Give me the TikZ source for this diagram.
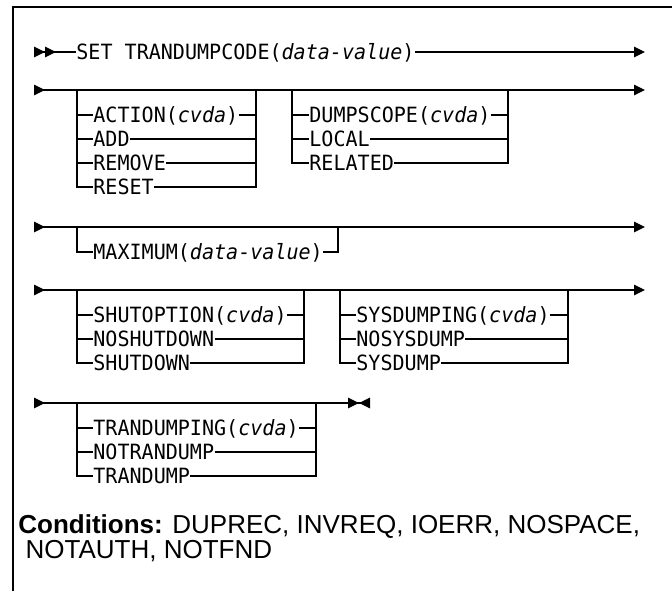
\documentclass[tikz,border=0pt]{standalone}
\usepackage{fontspec}
\setmainfont{Liberation Sans}
\newfontfamily\railfont{DejaVu Sans Mono}[FakeStretch=0.955]
\usetikzlibrary{arrows.meta}
\tikzset{
  frame/.style={line width=0.75pt, color=black},
  rail/.style={line width=0.7pt, color=black},
  item/.style={anchor=west, inner sep=0pt, text height=7.6pt, text depth=0pt,
    font=\railfont\fontsize{10.5}{12}\selectfont},
  cond/.style={anchor=base west, inner sep=0pt,
    font=\fontsize{13}{14}\selectfont}
}

\begin{document}
\begin{tikzpicture}[x=0.5pt, y=-0.5pt]
  \useasboundingbox (0,0) rectangle (672,591);
  \draw[frame] (13,591) -- (13,7) -- (672,7);

  % Row 1
  \coordinate (r1s) at (34,52);
  \coordinate (r1e) at (645,52);
  \node[item] (set) at (76,52) {SET TRANDUMPCODE(\textit{data-value})};
  \draw[rail, {Triangle[reversed, length=5.5pt, width=5.25pt] Triangle[reversed, length=5.5pt, width=5.25pt]}-] (r1s) -- (set.west);
  \draw[rail, -{Triangle[length=5.5pt, width=5.25pt]}] (set.east) -- (r1e);

  % Row 2
  \coordinate (r2s) at (34,90);
  \coordinate (r2e) at (645,90);
  \draw[rail, {Triangle[reversed, length=5.5pt, width=5.25pt]}-{Triangle[length=5.5pt, width=5.25pt]}] (r2s) -- (r2e);
  \coordinate (actL) at (77,90);
  \coordinate (actR) at (256,90);
  \node[item] (action) at (93,115) {ACTION(\textit{cvda})};
  \node[item] (add) at (93,139) {ADD};
  \node[item] (remove) at (93,163) {REMOVE};
  \node[item] (reset) at (93,187) {RESET};
  \draw[rail] (actL) |- (reset.west);
  \draw[rail] (actR) |- (reset.east);
  \draw[rail] (actL |- action) -- (action.west);
  \draw[rail] (action.east) -- (actR |- action);
  \draw[rail] (actL |- add) -- (add.west);
  \draw[rail] (add.east) -- (actR |- add);
  \draw[rail] (actL |- remove) -- (remove.west);
  \draw[rail] (remove.east) -- (actR |- remove);
  \coordinate (scoL) at (292,90);
  \coordinate (scoR) at (508,90);
  \node[item] (dumpscope) at (309,115) {DUMPSCOPE(\textit{cvda})};
  \node[item] (local) at (309,139) {LOCAL};
  \node[item] (related) at (309,163) {RELATED};
  \draw[rail] (scoL) |- (related.west);
  \draw[rail] (scoR) |- (related.east);
  \draw[rail] (scoL |- dumpscope) -- (dumpscope.west);
  \draw[rail] (dumpscope.east) -- (scoR |- dumpscope);
  \draw[rail] (scoL |- local) -- (local.west);
  \draw[rail] (local.east) -- (scoR |- local);

  % Row 3
  \coordinate (r3s) at (34,227);
  \coordinate (r3e) at (645,227);
  \draw[rail, {Triangle[reversed, length=5.5pt, width=5.25pt]}-{Triangle[length=5.5pt, width=5.25pt]}] (r3s) -- (r3e);
  \coordinate (maxL) at (77,227);
  \coordinate (maxR) at (338,227);
  \node[item] (maximum) at (93,252) {MAXIMUM(\textit{data-value})};
  \draw[rail] (maxL) |- (maximum.west);
  \draw[rail] (maxR) |- (maximum.east);

  % Row 4
  \coordinate (r4s) at (34,290);
  \coordinate (r4e) at (645,290);
  \draw[rail, {Triangle[reversed, length=5.5pt, width=5.25pt]}-{Triangle[length=5.5pt, width=5.25pt]}] (r4s) -- (r4e);
  \coordinate (shuL) at (77,290);
  \coordinate (shuR) at (304,290);
  \node[item] (shutoption) at (93,315) {SHUTOPTION(\textit{cvda})};
  \node[item] (noshutdown) at (93,339) {NOSHUTDOWN};
  \node[item] (shutdown) at (93,363) {SHUTDOWN};
  \draw[rail] (shuL) |- (shutdown.west);
  \draw[rail] (shuR) |- (shutdown.east);
  \draw[rail] (shuL |- shutoption) -- (shutoption.west);
  \draw[rail] (shutoption.east) -- (shuR |- shutoption);
  \draw[rail] (shuL |- noshutdown) -- (noshutdown.west);
  \draw[rail] (noshutdown.east) -- (shuR |- noshutdown);
  \coordinate (sysL) at (340,290);
  \coordinate (sysR) at (568,290);
  \node[item] (sysdumping) at (356,315) {SYSDUMPING(\textit{cvda})};
  \node[item] (nosysdump) at (356,339) {NOSYSDUMP};
  \node[item] (sysdump) at (356,363) {SYSDUMP};
  \draw[rail] (sysL) |- (sysdump.west);
  \draw[rail] (sysR) |- (sysdump.east);
  \draw[rail] (sysL |- sysdumping) -- (sysdumping.west);
  \draw[rail] (sysdumping.east) -- (sysR |- sysdumping);
  \draw[rail] (sysL |- nosysdump) -- (nosysdump.west);
  \draw[rail] (nosysdump.east) -- (sysR |- nosysdump);

  % Row 5
  \coordinate (r5s) at (34,403);
  \coordinate (r5e) at (370,403);
  \draw[rail, {Triangle[reversed, length=5.5pt, width=5.25pt]}-{Triangle[length=5.5pt, width=5.25pt] Triangle[reversed, length=5.5pt, width=5.25pt]}] (r5s) -- (r5e);
  \coordinate (traL) at (77,403);
  \coordinate (traR) at (316,403);
  \node[item] (trandumping) at (93,428) {TRANDUMPING(\textit{cvda})};
  \node[item] (notrandump) at (93,452) {NOTRANDUMP};
  \node[item] (trandump) at (93,476) {TRANDUMP};
  \draw[rail] (traL) |- (trandump.west);
  \draw[rail] (traR) |- (trandump.east);
  \draw[rail] (traL |- trandumping) -- (trandumping.west);
  \draw[rail] (trandumping.east) -- (traR |- trandumping);
  \draw[rail] (traL |- notrandump) -- (notrandump.west);
  \draw[rail] (notrandump.east) -- (traR |- notrandump);

  % Conditions
  \node[cond] (cond1) at (18,533) {\textbf{Conditions:} DUPREC, INVREQ, IOERR, NOSPACE,};
  \node[cond] (cond2) at (18,558) {\ NOTAUTH, NOTFND};
\end{tikzpicture}
\end{document}
